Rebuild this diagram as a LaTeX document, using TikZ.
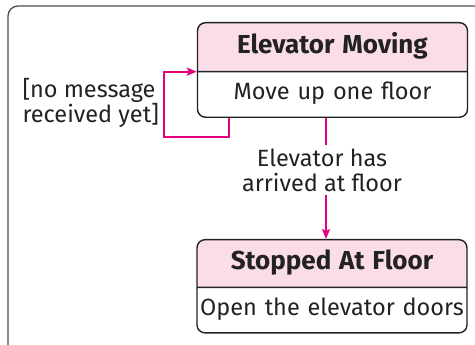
\documentclass[tikz,border=0pt]{standalone}
\usepackage{fontspec}
\setmainfont{Fira Sans}
\usepackage{xcolor}
\usetikzlibrary{arrows.meta,positioning,shapes.multipart}
\definecolor{trans}{HTML}{E5007D}
\definecolor{headpink}{HTML}{FADDE8}
\definecolor{edge}{HTML}{222222}
\newcommand{\headtext}[1]{{\fontsize{26}{25}\selectfont\bfseries #1}}

\begin{document}
\begin{tikzpicture}[x=1pt,y=-1pt, >={Stealth[length=10pt,width=8pt,inset=2pt]},
  every node/.style={font=\fontsize{23.5}{25}\selectfont,align=center,text=edge},
  state/.style={rectangle split,rectangle split parts=2,draw=edge,line width=1.4pt,
    rounded corners=8pt,rectangle split part fill={headpink,white},
    text width=264pt,inner xsep=3pt,inner ysep=9.5pt},
  link/.style={draw=trans,line width=2.2pt}]
\useasboundingbox (0,0) rectangle (475,345);
\clip (0,0) rectangle (475,345);
\draw[draw=edge!80,line width=1.3pt,rounded corners=10pt] (8,352) |- (482,6);

\node (moving) [state,anchor=north] at (332.5,22)
  {\strut\headtext{Elevator Moving}\nodepart{two}\strut Move up one floor};
\node (stopped) [state,anchor=north] at (332,239)
  {\strut\headtext{Stopped At Floor}\nodepart{two}\strut Open the elevator doors};

\node (guard) [align=left,anchor=west] at (19,103) {[no message\\received yet]};
\node (event) at (322,170) {Elevator has\\arrived at floor};

\draw[link,->] ([xshift=32pt]moving.south west) -- ++(0,19) -| ([xshift=-33pt]moving.text split west) -- (moving.text split west);
\draw[link] (moving.south -| 326,0) -- (event.north -| 326,0);
\draw[link,->] (event.south -| 326,0) -- (stopped.north -| 326,0);
\end{tikzpicture}
\end{document}
